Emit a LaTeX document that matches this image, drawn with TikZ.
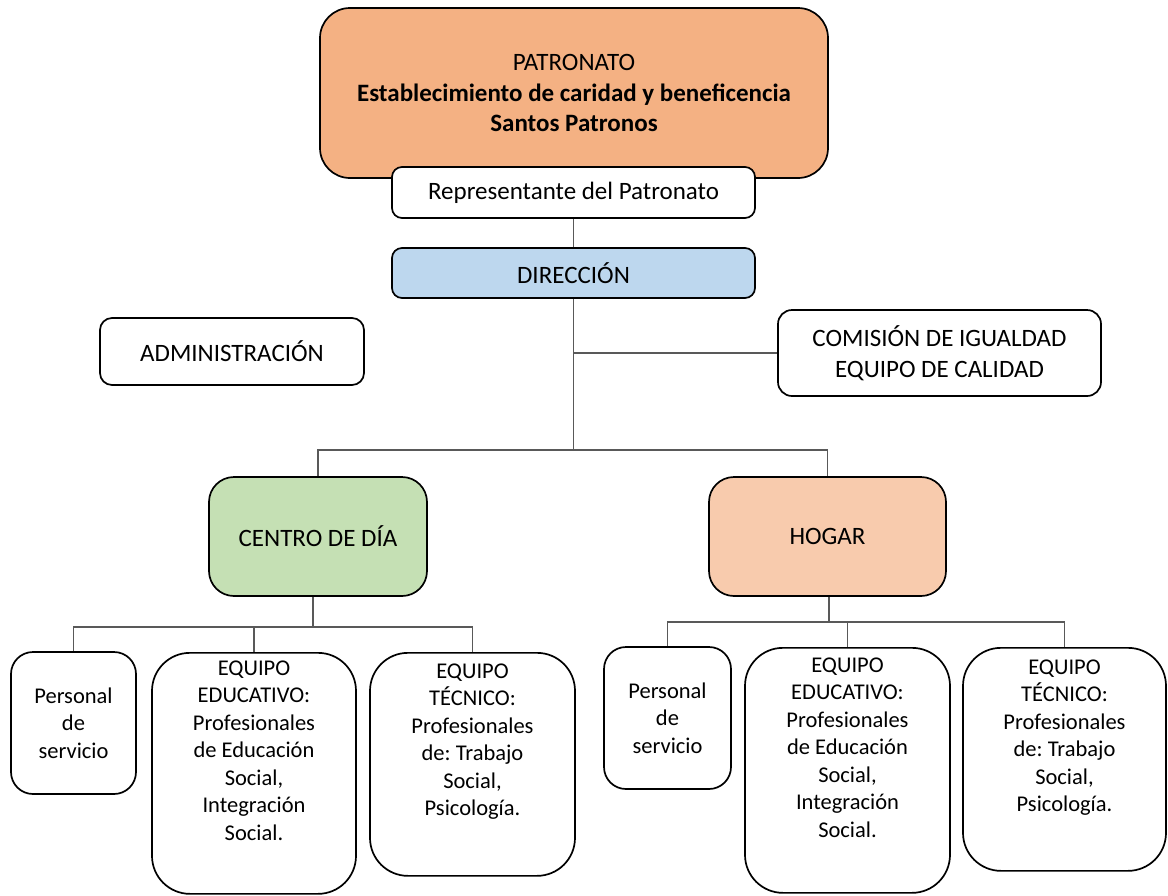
\documentclass[tikz,border=0pt]{standalone}
\usepackage{fontspec}
\setmainfont{Carlito}
\frenchspacing
\definecolor{patr}{HTML}{F4B183}
\definecolor{dirc}{HTML}{BDD7EE}
\definecolor{cenc}{HTML}{C5E0B4}
\definecolor{hogc}{HTML}{F8CBAD}
\begin{document}
\begin{tikzpicture}[x=1pt,y=-1pt,
  box/.style={draw=black, line width=1.7pt, rounded corners=#1, align=center, inner sep=0pt,
              font=\fontsize{25}{30.5}\selectfont},
  box/.default=12pt,
  sbox/.style={box=#1, font=\fontsize{22.5}{27.5}\selectfont},
  conn/.style={draw=black!65, line width=1.2pt}]
\useasboundingbox (0,0) rectangle (1168,895);

\node[box=30pt, fill=patr, minimum width=508pt, minimum height=170pt] (pat) at (574,93)
  {PATRONATO\\\textbf{Establecimiento de caridad y beneficencia}\\\textbf{Santos Patronos}};
\node[box=10pt, fill=white, minimum width=363pt, minimum height=51pt] (rep) at (573.5,192.5)
  {Representante del Patronato};
\node[box=10pt, fill=dirc, minimum width=363pt, minimum height=50pt] (dir) at (573.5,273)
  {DIRECCIÓN};
\node[box=12pt, minimum width=264pt, minimum height=67pt] (adm) at (232,351.5)
  {ADMINISTRACIÓN};
\node[box=14pt, minimum width=323pt, minimum height=86pt] (com) at (939.5,353)
  {COMISIÓN DE IGUALDAD\\EQUIPO DE CALIDAD};
\node[box=25pt, fill=cenc, minimum width=218pt, minimum height=119pt] (cen) at (318,536.5)
  {CENTRO DE DÍA};
\node[box=25pt, fill=hogc, minimum width=237pt, minimum height=119pt] (hog) at (827.5,536.5)
  {HOGAR};

% left group
\node[sbox=22pt, minimum width=125pt, minimum height=142pt] (p1) at (73.5,723)
  {Personal\\de\\servicio};
\node[sbox=38pt, anchor=north] (e1) at (254,652)
  {\parbox[t][241pt][t]{204pt}{\centering\vspace{8pt}EQUIPO\\EDUCATIVO:\\Profesionales\\de Educación\\Social,\\Integración\\Social.}};
\node[sbox=38pt, anchor=north] (t1) at (472.5,652)
  {\parbox[t][223pt][t]{205pt}{\centering\vspace{11pt}EQUIPO\\TÉCNICO:\\Profesionales\\de: Trabajo\\Social,\\Psicología.}};

% right group
\node[sbox=22pt, minimum width=127pt, minimum height=142pt] (p2) at (667.5,718)
  {Personal\\de\\servicio};
\node[sbox=38pt, anchor=north] (e2) at (847.5,647)
  {\parbox[t][245pt][t]{205pt}{\centering\vspace{10pt}EQUIPO\\EDUCATIVO:\\Profesionales\\de Educación\\Social,\\Integración\\Social.}};
\node[sbox=38pt, anchor=north] (t2) at (1064.5,647)
  {\parbox[t][223pt][t]{203pt}{\centering\vspace{12pt}EQUIPO\\TÉCNICO:\\Profesionales\\de: Trabajo\\Social,\\Psicología.}};

% connectors
\coordinate (j1) at (573.5,353);
\coordinate (j2) at (573.5,450);
\coordinate (j3) at (313,627);
\coordinate (j4) at (829,622);
\draw[conn] (rep.south) -- (dir.north);
\draw[conn] (dir.south) -- (j2);
\draw[conn] (j1) -- (j1 -| com.west);
\draw[conn] (cen.north) |- (j2) -| (hog.north);
\draw[conn] (cen.south -| j3) -- (j3);
\draw[conn] (p1.north) |- (j3) -| (t1.north);
\draw[conn] (e1.north) -- (e1.north |- j3);
\draw[conn] (hog.south -| j4) -- (j4);
\draw[conn] (p2.north) |- (j4) -| (t2.north);
\draw[conn] (e2.north) -- (e2.north |- j4);
\end{tikzpicture}
\end{document}
